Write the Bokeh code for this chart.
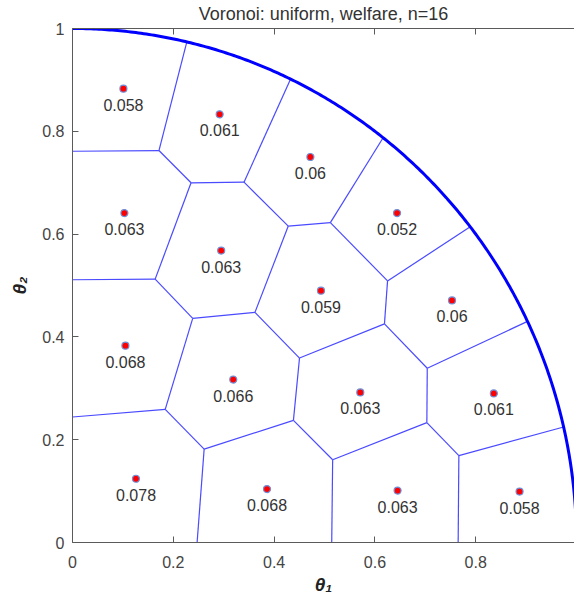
import numpy as np
from bokeh.plotting import figure
from bokeh.models import LinearAxis, FixedTicker, Range1d, ColumnDataSource, CustomLabelingPolicy
from bokeh.core.properties import value
from bokeh.embed import file_html
from bokeh.resources import INLINE

# ---- data ----
theta1 = [0.101, 0.292, 0.472, 0.644, 0.103, 0.295, 0.493, 0.753,
          0.105, 0.319, 0.571, 0.836, 0.126, 0.386, 0.645, 0.887]
theta2 = [0.883, 0.833, 0.750, 0.641, 0.641, 0.568, 0.490, 0.471,
          0.383, 0.317, 0.292, 0.290, 0.124, 0.104, 0.101, 0.099]
welfare = ["0.058", "0.061", "0.06", "0.052", "0.063", "0.063", "0.059", "0.06",
           "0.068", "0.066", "0.063", "0.061", "0.078", "0.068", "0.063", "0.058"]
x_ticks = [0, 0.2, 0.4, 0.6, 0.8]
x_tick_labels = ["0", "0.2", "0.4", "0.6", "0.8"]
y_ticks = [0, 0.2, 0.4, 0.6, 0.8, 1]
y_tick_labels = ["0", "0.2", "0.4", "0.6", "0.8", "1"]
radius = 1.0
title_text = "Voronoi: uniform, welfare, n=16"

# ---- Voronoi edges clipped to the quarter disk ----
pts = np.column_stack([theta1, theta2])
n = len(pts)
x0s, y0s, x1s, y1s = [], [], [], []
for i in range(n):
    for j in range(i + 1, n):
        pi, pj = pts[i], pts[j]
        m = (pi + pj) / 2
        dv = pj - pi
        d = np.array([-dv[1], dv[0]])
        cons = []
        for k in range(n):
            if k in (i, j):
                continue
            pk = pts[k]
            a = 2 * d.dot(pk - pi)
            b = pk.dot(pk) - pi.dot(pi) - 2 * m.dot(pk - pi)
            cons.append((a, b))
        cons.append((-d[0], m[0]))
        cons.append((-d[1], m[1]))
        lo, hi = -np.inf, np.inf
        ok = True
        for a, b in cons:
            if abs(a) < 1e-14:
                if b < 0:
                    ok = False
            elif a > 0:
                hi = min(hi, b / a)
            else:
                lo = max(lo, b / a)
        md = m.dot(d)
        dd = d.dot(d)
        disc = md * md - dd * (m.dot(m) - radius ** 2)
        if disc < 0:
            ok = False
        else:
            r = np.sqrt(disc)
            lo = max(lo, (-md - r) / dd)
            hi = min(hi, (-md + r) / dd)
        if ok and hi - lo > 1e-9:
            a0 = m + lo * d
            a1 = m + hi * d
            x0s.append(a0[0]); y0s.append(a0[1])
            x1s.append(a1[0]); y1s.append(a1[1])

ang = np.linspace(0, np.pi / 2, 300)
cx = radius * np.cos(ang)
cy = radius * np.sin(ang)

FONT = "Liberation Sans"
AX = "#5a5a5a"

p = figure(frame_width=502, frame_height=514, x_range=Range1d(0, 0.996), y_range=Range1d(0, 1),
           output_backend="svg", toolbar_location=None, title=title_text,
           min_border_left=72, min_border_right=0, min_border_top=20,
           min_border_bottom=59)
p.grid.visible = False
p.outline_line_color = None
p.background_fill_color = "white"
p.border_fill_color = "white"

p.title.align = "center"
p.title.text_font = FONT
p.title.text_font_size = "18px"
p.title.text_font_style = "normal"
p.title.text_color = "#333333"
p.title.standoff = 2

for ax, ticks, labels in ((p.xaxis[0], x_ticks, x_tick_labels), (p.yaxis[0], y_ticks, y_tick_labels)):
    ax.ticker = FixedTicker(ticks=ticks)
    ax.major_label_overrides = dict(zip(ticks, labels))
    ax.minor_tick_line_color = None
    ax.major_tick_in = 6
    ax.major_tick_out = 0
    ax.axis_line_color = AX
    ax.major_tick_line_color = AX
    ax.major_label_text_font = FONT
    ax.major_label_text_font_size = "16px"
    ax.major_label_text_color = "#444444"
    ax.axis_label_text_font = FONT
    ax.axis_label_text_font_size = "19px"
    ax.axis_label_text_font_style = "bold italic"
    ax.axis_label_text_color = "#222222"

p.xaxis.axis_label = "\u03b8\u2081"
p.yaxis.axis_label = "\u03b8\u2082"
p.xaxis.major_label_standoff = 13
p.yaxis.major_label_standoff = 8
p.xaxis.axis_label_standoff = 3
p.yaxis.axis_label_standoff = 9

top = LinearAxis(ticker=FixedTicker(ticks=x_ticks),
                 major_label_policy=CustomLabelingPolicy(code="return new Set()"),
                 major_label_text_font_size="1px",
                 major_tick_in=6, major_tick_out=0, minor_tick_line_color=None,
                 axis_line_color=AX, major_tick_line_color=AX, major_label_standoff=0)
p.add_layout(top, "above")

p.segment(x0=x0s, y0=y0s, x1=x1s, y1=y1s, line_color="#4a4aff", line_width=1.2)
p.line(cx, cy, line_color="#0000ff", line_width=3)

src = ColumnDataSource(dict(x=theta1, y=theta2, t=welfare))
p.scatter("x", "y", source=src, size=7, fill_color="#ff0000", line_color="#6f8fd8", line_width=1.2)
p.text("x", "y", text="t", source=src, text_align="center", text_baseline="middle",
       y_offset=16, text_font=value(FONT), text_font_size="16px", text_color="#333333")

open("out.html", "w").write(file_html(p, INLINE))
